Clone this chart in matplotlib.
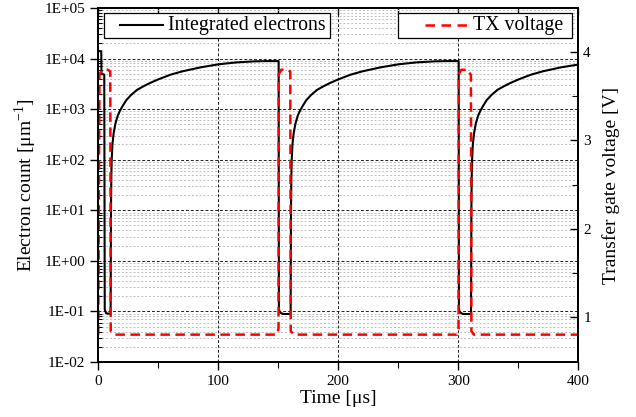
import numpy as np
import matplotlib
matplotlib.use('Agg')
from matplotlib import pyplot as plt
from matplotlib.patches import Rectangle
from matplotlib.lines import Line2D
from matplotlib.ticker import FixedLocator, FuncFormatter, MultipleLocator, NullFormatter

plt.rcParams['font.family'] = 'Liberation Serif'
plt.rcParams['mathtext.fontset'] = 'custom'
plt.rcParams['mathtext.rm'] = 'Liberation Serif'

# integrated electrons (left axis, log)
t_e = [0, 2.5, 2.7, 5.0, 5.4, 6.5, 10.3,
       10.6, 10.9, 11.2, 11.8, 12.8, 14.3, 16.3, 18.3, 20.3, 23.3, 27.3, 32.3,
       37.3, 43.3, 50.3, 60.3, 70.3, 85.3, 100.3, 115.3, 130.3, 140.3, 150.3,
       150.5, 151.5, 154.0, 160.3,
       160.6, 160.9, 161.2, 161.8, 162.8, 164.3, 166.3, 168.3, 170.3, 173.3,
       177.3, 182.3, 187.3, 193.3, 200.3, 210.3, 220.3, 235.3, 250.3, 265.3,
       280.3, 290.3, 300.3,
       300.5, 301.5, 304.0, 310.6,
       310.9, 311.2, 311.5, 312.1, 313.1, 314.6, 316.6, 318.6, 320.6, 323.6,
       327.6, 332.6, 337.6, 343.6, 350.6, 360.6, 370.6, 385.6, 400.0]
n_e = [1.4e4, 1.4e4, 5.0e3, 4.8e3, 0.11, 0.092, 0.089,
       10, 50, 100, 200, 330, 520, 750, 950, 1150, 1500, 1900, 2400,
       2800, 3300, 3900, 4800, 5600, 6700, 7700, 8400, 8800, 8900, 8900,
       0.11, 0.095, 0.089, 0.089,
       10, 50, 100, 200, 330, 520, 750, 950, 1150, 1500,
       1900, 2400, 2800, 3300, 3900, 4800, 5600, 6700, 7700, 8400,
       8800, 8900, 8900,
       0.11, 0.095, 0.089, 0.089,
       10, 50, 100, 200, 330, 520, 750, 950, 1150, 1500,
       1900, 2400, 2800, 3300, 3900, 4800, 5600, 6700, 7600]

# transfer gate voltage (right axis)
t_v = [0, 1.0, 3.5, 8.0, 10.0, 10.4, 13.0,
       149.0, 150.2, 150.4, 152.5, 158.0, 160.0, 160.4, 163.0,
       299.0, 300.2, 300.4, 302.5, 308.0, 310.5, 310.9, 313.0, 400.0]
v_tx = [0.8, 3.75, 3.8, 3.8, 3.78, 0.84, 0.8,
        0.8, 0.87, 3.75, 3.8, 3.8, 3.78, 0.84, 0.8,
        0.8, 0.87, 3.75, 3.8, 3.8, 3.74, 0.84, 0.8, 0.8]

red_dash = (0, (3.8, 2.2))

fig = plt.figure(figsize=(6.36, 4.17), dpi=100)
ax = fig.add_axes([0.1545, 0.1319, 0.7548, 0.849])
ax2 = ax.twinx()

ax.plot(t_e, n_e, color='k', lw=1.5)
ax2.plot(t_v, v_tx, color='#ff0000', lw=1.8, ls=red_dash)

ax.set_yscale('log')
ax.set_ylim(1e-2, 1e5)
ax.set_xlim(0, 400)
ax2.set_ylim(0.49, 4.5)

ax.yaxis.set_major_locator(FixedLocator([10.0 ** k for k in range(-2, 6)]))
ax.yaxis.set_major_formatter(FuncFormatter(lambda v, p: '1E%+03d' % round(np.log10(v))))
ax.yaxis.set_minor_locator(FixedLocator([m * 10.0 ** k for k in range(-2, 5) for m in range(2, 10)]))
ax.yaxis.set_minor_formatter(NullFormatter())
ax.xaxis.set_major_locator(MultipleLocator(100))
ax.xaxis.set_minor_locator(MultipleLocator(50))
ax2.yaxis.set_major_locator(FixedLocator([1, 2, 3, 4]))
ax2.yaxis.set_minor_locator(FixedLocator([1.5, 2.5, 3.5]))

ax.grid(which='major', axis='both', color='#222222', ls=(0, (3, 2)), lw=0.7)
ax.grid(which='minor', axis='y', color='#bdbdbd', ls=(0, (2, 2)), lw=0.7)
ax.set_axisbelow(True)

ax.tick_params(axis='y', which='major', direction='out', length=6, width=1, labelsize=11)
ax.tick_params(axis='y', which='minor', direction='in', length=3, width=0.8)
ax.tick_params(axis='x', which='major', direction='out', length=6, width=1, labelsize=11)
ax.tick_params(axis='x', which='minor', direction='out', length=4, width=0.8)
ax2.tick_params(axis='y', which='major', direction='in', length=6, width=1, labelsize=11)
ax2.tick_params(axis='y', which='minor', direction='in', length=4, width=0.8)

top = ax.secondary_xaxis('top')
top.xaxis.set_major_locator(MultipleLocator(50))
top.tick_params(direction='in', length=5, width=1, labeltop=False)

for a in (ax, ax2, top):
    for s in a.spines.values():
        s.set_linewidth(1.3)

ax.set_xlabel('Time [μs]', fontsize=14, labelpad=1)
ax.set_ylabel(r'Electron count [μm$^{\mathregular{-1}}$]', fontsize=14, labelpad=4)
ax2.set_ylabel('Transfer gate voltage [V]', fontsize=14, labelpad=8)

# legends drawn as boxes in axes coordinates
def legend_box(x0, x1, y0, y1, hx0, hx1, tx, label, **line_kw):
    ax2.add_patch(Rectangle((x0, y0), x1 - x0, y1 - y0, transform=ax2.transAxes,
                            facecolor='white', edgecolor='k', lw=0.9, zorder=5))
    yc = (y0 + y1) / 2
    ax2.add_line(Line2D([hx0, hx1], [yc, yc], transform=ax2.transAxes, zorder=6, **line_kw))
    ax2.text(tx, yc, label, transform=ax2.transAxes, fontsize=14.3, va='center',
             ha='left', zorder=6)

legend_box(0.012, 0.483, 0.915, 0.986, 0.045, 0.135, 0.145, 'Integrated electrons',
           color='k', lw=1.5)
legend_box(0.624, 0.987, 0.915, 0.986, 0.681, 0.768, 0.781, 'TX voltage',
           color='#ff0000', lw=1.8, ls=(0, (3.8, 2.6)))

fig.savefig('out.png', dpi=100)
